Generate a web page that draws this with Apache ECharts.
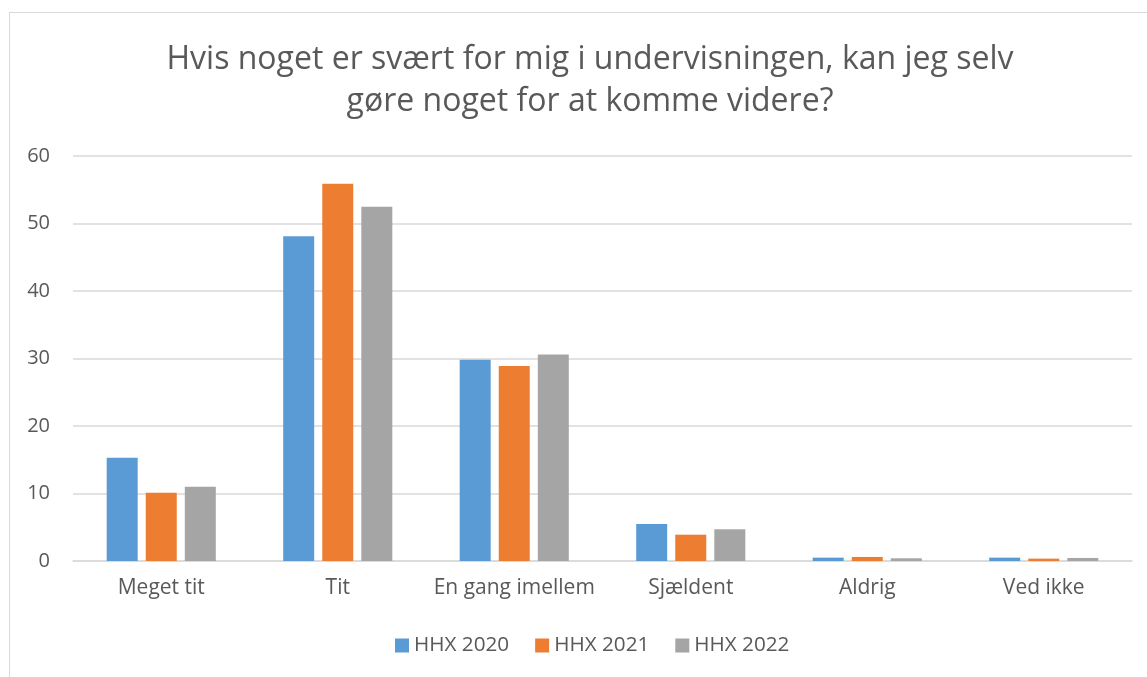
<!DOCTYPE html>
<html>
<head>
<meta charset="utf-8">
<script src="https://cdn.jsdelivr.net/npm/echarts@6/dist/echarts.min.js"></script>
<style>
  html, body { margin: 0; padding: 0; background: #fff; }
  #frame {
    position: absolute; left: 9px; top: 12px; width: 1150px; height: 680px;
    border: 1.5px solid #d9d9d9; box-sizing: border-box;
  }
  #chart { position: absolute; left: 0; top: 0; width: 1147px; height: 677px; }
</style>
</head>
<body>
<div id="frame"></div>
<div id="chart"></div>
<script>
const categories = ["Meget tit", "Tit", "En gang imellem", "Sjældent", "Aldrig", "Ved ikke"];
const seriesNames = ["HHX 2020", "HHX 2021", "HHX 2022"];
const hhx2020 = [15.3, 48.1, 29.8, 5.5, 0.5, 0.5];
const hhx2021 = [10.1, 55.9, 28.9, 3.9, 0.6, 0.35];
const hhx2022 = [11.0, 52.5, 30.6, 4.7, 0.4, 0.45];
const colors = ["#5B9BD5", "#ED7D31", "#A5A5A5"];

const font = "Open Sans";
const textColor = "#595959";

const chart = echarts.init(document.getElementById("chart"), null, { renderer: "canvas" });

const values = [hhx2020, hhx2021, hhx2022];

chart.setOption({
  animation: false,
  title: {
    text: "Hvis noget er svært for mig i undervisningen, kan jeg selv\ngøre noget for at komme videre?",
    left: 585,
    textAlign: "center",
    top: 34,
    textStyle: {
      fontFamily: font,
      fontSize: 32,
      fontWeight: "normal",
      color: textColor,
      lineHeight: 42,
    },
  },
  legend: {
    bottom: 16,
    left: 390,
    itemWidth: 14,
    itemHeight: 14,
    itemGap: 26,
    icon: "rect",
    textStyle: { fontFamily: font, fontSize: 20.7, color: textColor },
  },
  grid: { left: 73, right: 15, top: 156, bottom: 116 },
  xAxis: {
    type: "category",
    data: categories,
    axisTick: { show: false },
    axisLine: { lineStyle: { color: "#d9d9d9", width: 1.5 } },
    axisLabel: { fontFamily: font, fontSize: 21, color: textColor, margin: 17, interval: 0 },
  },
  yAxis: {
    type: "value",
    min: 0,
    max: 60,
    interval: 10,
    axisLabel: { fontFamily: font, fontSize: 20, color: textColor, margin: 23 },
    splitLine: { lineStyle: { color: "#d9d9d9", width: 1.5 } },
  },
  series: seriesNames.map((name, i) => ({
    name,
    type: "bar",
    data: values[i],
    barWidth: 31,
    barGap: "26%",
    itemStyle: { color: colors[i] },
  })),
});
</script>
</body>
</html>
